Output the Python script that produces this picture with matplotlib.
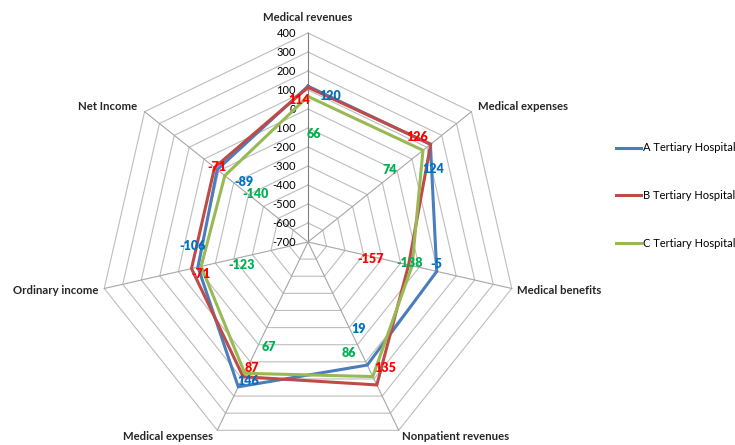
import numpy as np
import matplotlib
matplotlib.use("Agg")
import matplotlib.pyplot as plt

# Categories around the radar, clockwise from the top
categories = ["Medical revenues", "Medical expenses", "Medical benefits",
              "Nonpatient revenues", "Medical expenses", "Ordinary income",
              "Net Income"]
series_names = ["A Tertiary Hospital", "B Tertiary Hospital", "C Tertiary Hospital"]
values_a = [120, 124, -5, 19, 146, -106, -89]
values_b = [114, 126, -157, 135, 87, -71, -71]
values_c = [66, 74, -138, 86, 67, -123, -140]
radial_ticks = list(range(-700, 401, 100))

rmin, rmax = -700, 400
line_colors = ["#4A7EBB", "#BE4B48", "#98B954"]
label_colors = ["#0070C0", "#FF0000", "#00B050"]
# label offsets in points (dx, dy) per series and per axis
label_offsets = [
    [(16, -7), (2, -18), (0, 5), (-6, 26), (7, 4), (-4, 15), (19, -9)],
    [(-6, -9), (-10, 5), (-27, 4), (6, 12), (6, 6), (7, -4), (2, 0)],
    [(4, -27), (-24, -14), (-2, 2), (-17, 17), (17, 19), (29, 1), (22, -13)],
]

FONT = "Lato"
W, H = 735, 445
cx, cy = 308, 242          # centre of the radar in pixels
scale = 0.19               # pixels per value unit

fig = plt.figure(figsize=(W / 100, H / 100), dpi=100)
ax = fig.add_axes([0, 0, 1, 1])
ax.set_xlim(-cx / scale, (W - cx) / scale)
ax.set_ylim(-(H - cy) / scale, cy / scale)
ax.axis("off")

n = len(categories)
theta = np.arange(n) * 2 * np.pi / n


def xy(val, k):
    r = val - rmin
    return r * np.sin(theta[k]), r * np.cos(theta[k])


# polygon grid rings
for t in radial_ticks:
    pts = [xy(t, k) for k in range(n)] + [xy(t, 0)]
    ax.plot([p[0] for p in pts], [p[1] for p in pts], color="#BDBDBD",
            lw=0.8, zorder=1)
# spokes
for k in range(n):
    x1, y1 = xy(rmax, k)
    ax.plot([0, x1], [0, y1], color="#A6A6A6" if k else "#808080",
            lw=0.8, zorder=1)

# radial tick labels along the top spoke
for t in radial_ticks:
    x, y = xy(t, 0)
    ax.text(x - 12 / scale, y, str(t), ha="right", va="center",
            fontsize=8, family=FONT, color="#000000")

# category labels
cat_pos = [
    ((308, 17), "center"), ((478, 106), "left"), ((517, 290), "left"),
    ((402, 437), "left"), ((213, 437), "right"), ((98, 290), "right"),
    ((137, 106), "right"),
]
for (p, ha), name in zip(cat_pos, categories):
    ax.text((p[0] - cx) / scale, (cy - p[1]) / scale, name, ha=ha,
            va="center", fontsize=8.2, fontweight="bold", family=FONT,
            color="#262626")

# series
all_values = [values_a, values_b, values_c]
for s, vals in enumerate(all_values):
    pts = [xy(v, k) for k, v in enumerate(vals)]
    pts.append(pts[0])
    ax.plot([p[0] for p in pts], [p[1] for p in pts], color=line_colors[s],
            lw=2.2, zorder=3, solid_joinstyle="miter", label=series_names[s])

# data labels
for s, vals in enumerate(all_values):
    for k, v in enumerate(vals):
        x, y = xy(v, k)
        dx, dy = label_offsets[s][k]
        ax.annotate(str(v), (x, y), xytext=(dx, dy), textcoords="offset points",
                    ha="center", va="center", fontsize=9, fontweight="heavy",
                    family=FONT, color=label_colors[s], zorder=6)

leg = ax.legend(loc="upper left", bbox_to_anchor=(612 / W, 1 - 138 / H),
                frameon=False, handlelength=2.2, handletextpad=0.2,
                labelspacing=3.3, borderaxespad=0,
                prop={"family": FONT, "size": 8})

fig.savefig("out.png", dpi=100)
